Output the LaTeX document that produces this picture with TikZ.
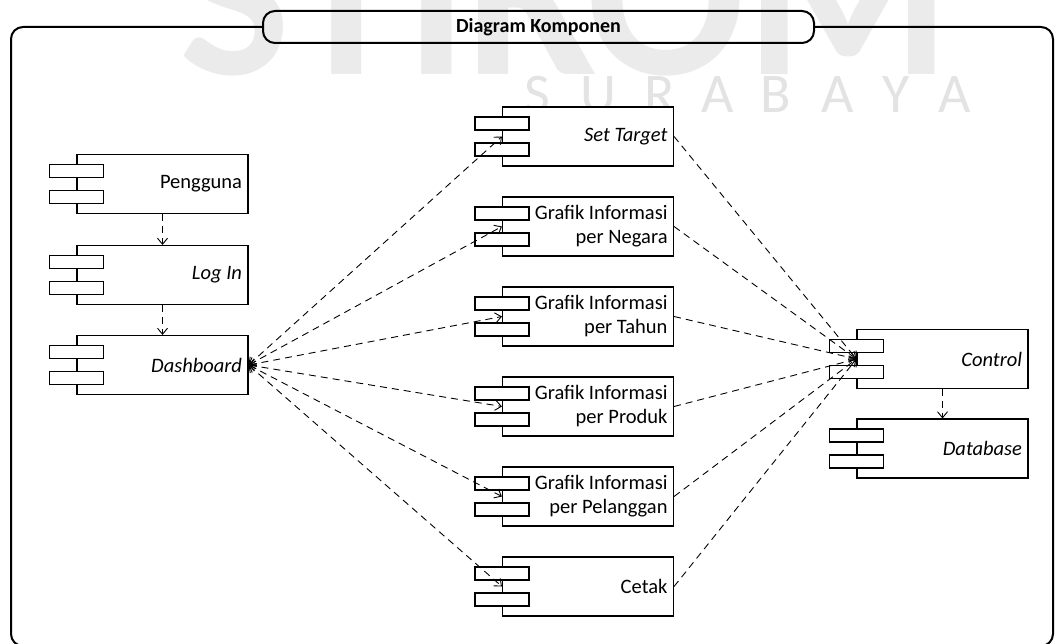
\documentclass[tikz,border=0pt]{standalone}
\usepackage{fontspec}
\setmainfont{Carlito}
\usetikzlibrary{arrows.meta}

% a UML component: main box with two port rectangles on its left edge
\newcommand\umlcomp[4]{%
  \node[comp] (#1) at (#2,#3) {#4};
  \node[port] (#1-p1) at ([yshift=13pt]#1.west) {};
  \node[port] (#1-p2) at ([yshift=-13pt]#1.west) {};
}

\begin{document}
\begin{tikzpicture}[x=1pt,y=-1pt,
  comp/.style={draw, line width=1.1pt, fill=white, minimum width=171pt,
    minimum height=59pt, text width=159pt, align=flush right, inner sep=6pt,
    font=\fontsize{20.5}{24}\selectfont},
  port/.style={draw, line width=1.1pt, fill=white, minimum width=54pt,
    minimum height=13pt, inner sep=0pt},
  barb/.tip={Straight Barb[length=6pt,width=10pt,line width=0.9pt]},
  dep/.style={line width=0.9pt, dash pattern=on 7pt off 5pt, -barb},
  mark2/.style={line width=0.9pt, dash pattern=on 7pt off 5pt, barb-barb},
  wm/.style={text=black!8, inner sep=0pt, anchor=base}
]
\useasboundingbox (0,0) rectangle (1059,644);
\clip (0,0) rectangle (1059,644);

% watermark
\node[wm, font=\bfseries\fontsize{235}{235}\selectfont] (wmbig) at (565,75) {STIKOM};
\foreach \c/\x [count=\i] in {S/537,U/598,R/660,A/718,B/776,A/838,Y/896,A/955}
  \node[wm, text=black!11, font=\fontsize{56}{56}\selectfont] (wm\i) at (\x,113) {\c};

% title tab and frame
\node[draw, line width=2pt, rounded corners=12pt, minimum width=551pt,
  minimum height=32pt, inner sep=0pt, font=\bfseries\fontsize{20}{24}\selectfont]
  (title) at (538.5,27) {Diagram Komponen};
\draw[line width=2pt, rounded corners=12pt]
  (title.west) -- (11,27) -- (11,646) -- (1053,646) -- (1053,27) -- (title.east);

% left column
\umlcomp{peng}{162.5}{184}{Pengguna}
\umlcomp{login}{162.5}{275}{\itshape Log In}
\umlcomp{dash}{162.5}{365}{\itshape Dashboard}

% middle column
\umlcomp{target}{588}{136.5}{\itshape Set Target}
\umlcomp{negara}{588}{226.5}{Grafik Informasi\\per Negara}
\umlcomp{tahun}{588}{316.5}{Grafik Informasi\\per Tahun}
\umlcomp{produk}{588}{406.5}{Grafik Informasi\\per Produk}
\umlcomp{pelanggan}{588}{496.5}{Grafik Informasi\\per Pelanggan}
\umlcomp{cetak}{588}{586.5}{Cetak}

% right column
\umlcomp{ctrl}{942.5}{359}{\itshape Control}
\umlcomp{db}{942.5}{448.5}{\itshape Database}

% dependencies
\draw[dep] (peng.south) -- (login.north);
\draw[dep] (login.south) -- (dash.north);
\draw[dep] (ctrl.south) -- (db.north);
\foreach \m in {target,negara,tahun,produk,pelanggan,cetak}{
  \draw[mark2] (dash.east) -- (\m.west);
  \draw[dep] (\m.east) -- (ctrl.west);
}
\end{tikzpicture}
\end{document}
